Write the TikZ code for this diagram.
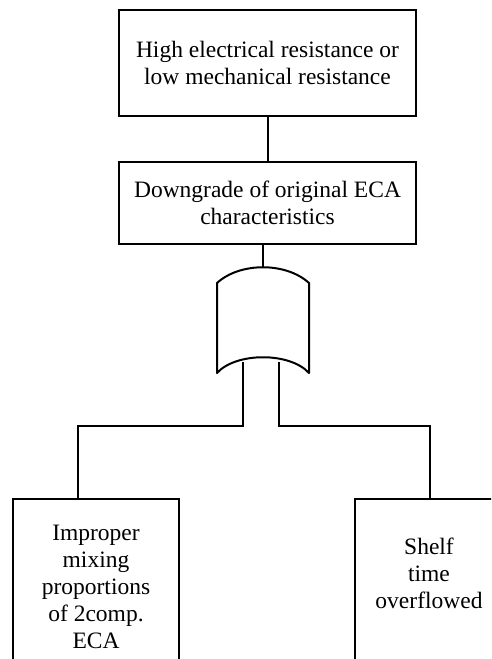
\documentclass[tikz,border=0pt]{standalone}
\usepackage{fontspec}
\setmainfont{Liberation Serif}
\begin{document}
\begin{tikzpicture}[x=1pt,y=-1pt,line width=2pt,
  txt/.style={align=center,inner sep=0pt,font=\fontsize{23.5}{27}\selectfont},
  box/.style={txt,draw,line width=2pt},
  wire/.style={draw,line width=2pt,line join=miter}]
\clip (0,0) rectangle (491,659);
\fill[white] (0,0) rectangle (491,659);
% boxes
\node[box,minimum width=297pt,minimum height=106pt] (top) at (267.5,63)
  {High electrical resistance or\\low mechanical resistance};
\node[box,minimum width=297pt,minimum height=82pt] (mid) at (267.5,203)
  {Downgrade of original ECA\\characteristics};
\node[box,anchor=north,minimum width=166pt,minimum height=220pt] (lbox) at (96,498) {};
\node[txt] (ltext) at (96,587) {Improper\\mixing\\proportions\\of 2comp.\\ECA};
\node[box,anchor=north,minimum width=148pt,minimum height=220pt] (rbox) at (429,498) {};
\node[txt] (rtext) at (429,573) {Shelf\\time\\overflowed};
% gate reference points
\coordinate (gtop) at (263,268);
\coordinate (gin1) at (243,362);
\coordinate (gin2) at (279,362);
\coordinate (bar) at (0,426);
\path (lbox.north) ++(-18,0) coordinate (ltop);
\path (rbox.north) ++(1,0) coordinate (rtop);
% connectors
\draw[wire] (top.south) -- (mid.north);
\draw[wire] (gtop) -- (gtop |- mid.south);
\draw[wire] (gin1) -- (gin1 |- bar) -| (ltop);
\draw[wire] (gin2) -- (gin2 |- bar) -| (rtop);
% OR gate
\draw[fill=white,line join=round]
  (217,283) .. controls (240,262) and (286,262) .. (309,283)
  -- (309,373) .. controls (290,352) and (236,352) .. (217,373) -- cycle;
\end{tikzpicture}
\end{document}
